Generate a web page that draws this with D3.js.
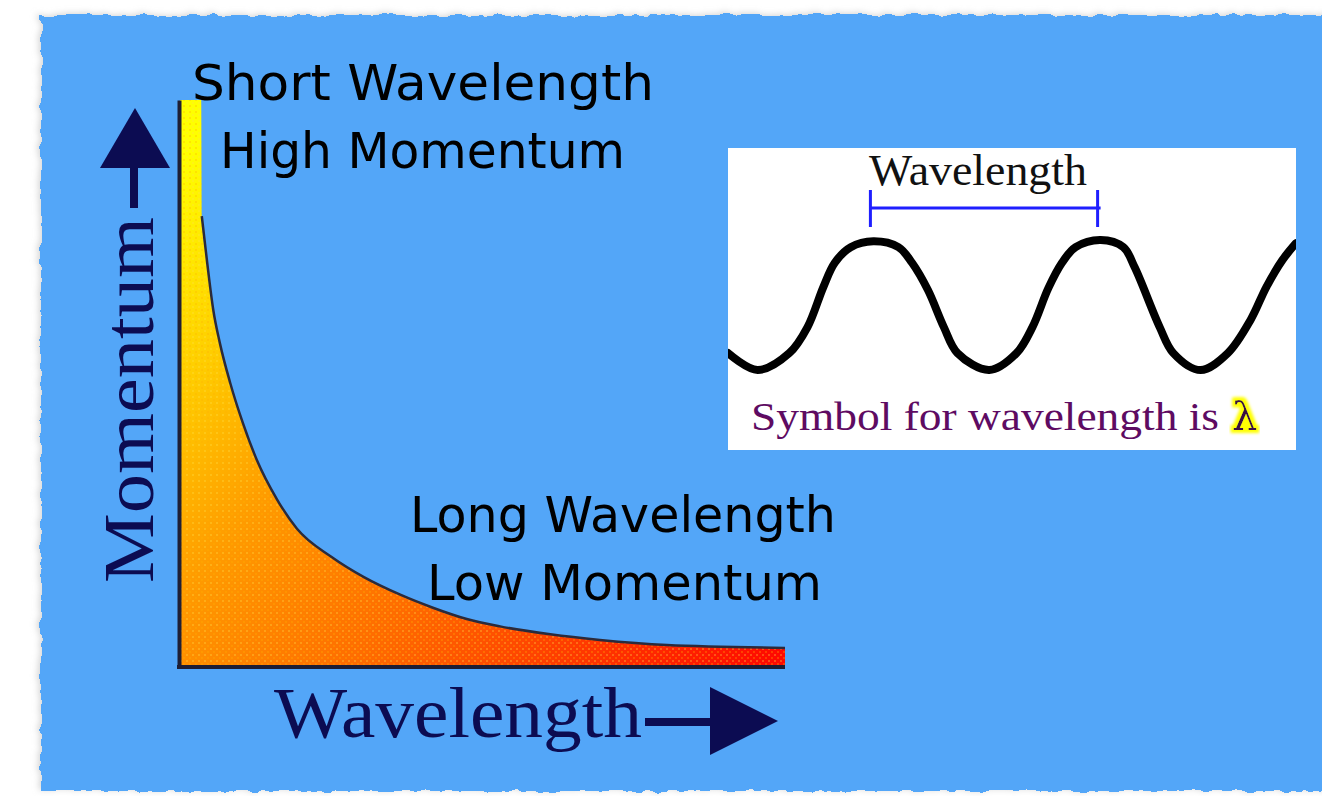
<!DOCTYPE html>
<html>
<head>
<meta charset="utf-8">
<script src="https://cdn.jsdelivr.net/npm/d3@7/dist/d3.min.js"></script>
<style>
body{margin:0;background:#fff;overflow:hidden;}
svg{display:block;}
</style>
</head>
<body>
<div class="canvas"></div>
<script>
/* Wavelength vs momentum sketch with inset wave */

var W = 1322, H = 796;

// main curve (both axes 0-100)
var wavelength = [0, 3.5, 3.6, 4.5, 5.5, 6.6, 8.3, 10.4, 12.7, 16.0, 19.3, 25.0, 30.4, 36.4, 41.8, 47.4, 52.9, 61.2, 69.4, 80.5, 100];
var momentum   = [100, 100, 79.5, 71.2, 62.9, 57.0, 50.0, 42.9, 36.4, 29.5, 24.3, 19.3, 15.7, 12.6, 10.3, 8.3, 7.0, 5.6, 4.6, 3.7, 3.2];

// inset wave: phase in wavelengths (0 = first crest), displacement -1..1
var wavePhase = [-0.64, -0.51, -0.37, -0.29, -0.22, -0.17, -0.10, 0, 0.11, 0.17, 0.24, 0.31, 0.37, 0.51,
                 0.63, 0.70, 0.77, 0.83, 0.89, 1.0, 1.10, 1.15, 1.26, 1.32, 1.44, 1.56, 1.66, 1.73, 1.80, 1.86];
var waveDisp  = [-0.74, -1, -0.74, -0.34, 0.28, 0.65, 0.89, 0.98, 0.89, 0.65, 0.23, -0.34, -0.74, -1,
                 -0.74, -0.34, 0.26, 0.65, 0.89, 1.0, 0.89, 0.58, -0.34, -0.74, -1, -0.74, -0.23, 0.28, 0.69, 0.95];

// text
var notesTop = ['Short Wavelength', 'High Momentum'];
var notesBottom = ['Long Wavelength', 'Low Momentum'];
var xTitle = 'Wavelength', yTitle = 'Momentum';
var insetTitle = 'Wavelength', insetNote = 'Symbol for wavelength is', insetSymbol = '\u03bb';

var svg = d3.select('.canvas')
    .append('svg')
    .attr('width', W)
    .attr('height', H);

var defs = svg.append('defs');

// rough paper edge for the blue panel
var rough = defs.append('filter').attr('id', 'rough')
    .attr('x', '-5%').attr('y', '-5%').attr('width', '110%').attr('height', '110%');
rough.append('feTurbulence').attr('type', 'fractalNoise').attr('baseFrequency', 0.09)
    .attr('numOctaves', 2).attr('seed', 3).attr('result', 'noise');
rough.append('feDisplacementMap').attr('in', 'SourceGraphic').attr('in2', 'noise')
    .attr('scale', 7).attr('xChannelSelector', 'R').attr('yChannelSelector', 'G').attr('result', 'torn');
rough.append('feGaussianBlur').attr('in', 'torn').attr('stdDeviation', 3).attr('result', 'blur');
rough.append('feOffset').attr('in', 'blur').attr('dx', -2).attr('dy', -1).attr('result', 'off');
rough.append('feColorMatrix').attr('in', 'off').attr('type', 'matrix')
    .attr('values', '0 0 0 0 0.55  0 0 0 0 0.55  0 0 0 0 0.55  0 0 0 0.7 0').attr('result', 'shadow');
var merge = rough.append('feMerge');
merge.append('feMergeNode').attr('in', 'shadow');
merge.append('feMergeNode').attr('in', 'torn');

// fill gradient, yellow at the spike to red at the tail
var grad = defs.append('linearGradient').attr('id', 'heat')
    .attr('gradientUnits', 'userSpaceOnUse')
    .attr('x1', 190).attr('y1', 150).attr('x2', 780).attr('y2', 650);
[[0, '#ffff00'], [0.18, '#ffd000'], [0.36, '#ff9c00'], [0.6, '#ff6a00'], [0.8, '#ff3a00'], [1, '#ff0a00']]
    .forEach(function(s){
        grad.append('stop').attr('offset', s[0]).attr('stop-color', s[1]);
    });

// dither dots
var dots = defs.append('pattern').attr('id', 'dither')
    .attr('patternUnits', 'userSpaceOnUse').attr('width', 6).attr('height', 6);
dots.append('rect').attr('x', 0).attr('y', 0).attr('width', 2).attr('height', 2).attr('fill', '#ffe24a');
dots.append('rect').attr('x', 3).attr('y', 3).attr('width', 2).attr('height', 2).attr('fill', '#ffb000');

// yellow halo for lambda
var glow = defs.append('filter').attr('id', 'glow');
glow.append('feMorphology').attr('in', 'SourceAlpha').attr('operator', 'dilate').attr('radius', 3).attr('result', 'fat');
glow.append('feGaussianBlur').attr('in', 'fat').attr('stdDeviation', 1.5).attr('result', 'soft');
glow.append('feFlood').attr('flood-color', '#ffff00');
glow.append('feComposite').attr('in2', 'soft').attr('operator', 'in').attr('result', 'halo');
var gm = glow.append('feMerge');
gm.append('feMergeNode').attr('in', 'halo');
gm.append('feMergeNode').attr('in', 'SourceGraphic');

// blue panel
svg.append('rect')
    .attr('x', 41).attr('y', 15)
    .attr('width', W + 40).attr('height', 776)
    .attr('fill', '#52a6f8')
    .attr('filter', 'url(#rough)');

/* main chart */
var x = d3.scaleLinear().domain([0, 100]).range([180, 785]);
var y = d3.scaleLinear().domain([0, 100]).range([666, 100]);

var pts = wavelength.map(function(d, i){ return {w: d, p: momentum[i]}; });

var area = d3.area()
    .x(function(d){ return x(d.w); })
    .y0(y(0))
    .y1(function(d){ return y(d.p); })
    .curve(d3.curveMonotoneX);
var edge = d3.line()
    .x(function(d){ return x(d.w); })
    .y(function(d){ return y(d.p); })
    .curve(d3.curveMonotoneX);

var plot = svg.append('g').attr('class', 'plot');

plot.append('path').datum(pts)
    .attr('d', area)
    .attr('fill', 'url(#heat)');
plot.append('path').datum(pts)
    .attr('d', area)
    .attr('fill', 'url(#dither)')
    .attr('opacity', 0.3);
plot.append('path').datum(pts.slice(2))
    .attr('d', edge)
    .attr('fill', 'none')
    .attr('stroke', '#2b2b3c')
    .attr('stroke-width', 2.5);

var yAxis = d3.axisLeft(y).tickValues([]).tickSizeOuter(0);
var xAxis = d3.axisBottom(x).tickValues([]).tickSizeOuter(0);
plot.append('g').attr('transform', 'translate(' + (x(0) - 1) + ',0)').call(yAxis)
    .select('.domain').attr('stroke', '#1e1e34').attr('stroke-width', 4);
plot.append('g').attr('transform', 'translate(0,' + (y(0) + 1) + ')').call(xAxis)
    .select('.domain').attr('stroke', '#1e1e34').attr('stroke-width', 4)
    .attr('d', 'M' + (x(0) - 3) + ',0H' + x(100));

// pixel-font notes
var note = svg.append('g')
    .attr('font-family', '"DejaVu Sans", sans-serif')
    .attr('font-size', 50)
    .attr('fill', '#000');
note.append('text').attr('x', 192).attr('y', 100).attr('textLength', 462)
    .attr('lengthAdjust', 'spacingAndGlyphs').text(notesTop[0]);
note.append('text').attr('x', 220).attr('y', 168).attr('textLength', 405)
    .attr('lengthAdjust', 'spacingAndGlyphs').text(notesTop[1]);
note.append('text').attr('x', 410).attr('y', 532).attr('textLength', 426)
    .attr('lengthAdjust', 'spacingAndGlyphs').text(notesBottom[0]);
note.append('text').attr('x', 427).attr('y', 600).attr('textLength', 395)
    .attr('lengthAdjust', 'spacingAndGlyphs').text(notesBottom[1]);

// axis titles with arrows
var navy = '#0c0c52';
svg.append('text')
    .attr('x', 274).attr('y', 737)
    .attr('font-family', '"Liberation Serif", serif')
    .attr('font-size', 72)
    .attr('fill', navy)
    .attr('textLength', 368).attr('lengthAdjust', 'spacingAndGlyphs')
    .text(xTitle);
svg.append('line')
    .attr('x1', 645).attr('x2', 714).attr('y1', 722).attr('y2', 722)
    .attr('stroke', navy).attr('stroke-width', 8);
svg.append('path')
    .attr('d', 'M710,687L778,721L710,755Z')
    .attr('fill', navy);

svg.append('text')
    .attr('transform', 'translate(153,583) rotate(-90)')
    .attr('font-family', '"Liberation Serif", serif')
    .attr('font-size', 72)
    .attr('fill', navy)
    .attr('textLength', 366).attr('lengthAdjust', 'spacingAndGlyphs')
    .text(yTitle);
svg.append('line')
    .attr('x1', 134).attr('x2', 134).attr('y1', 208).attr('y2', 164)
    .attr('stroke', navy).attr('stroke-width', 8);
svg.append('path')
    .attr('d', 'M100,168L135,108L170,168Z')
    .attr('fill', navy);

/* inset */
var box = {x: 728, y: 148, w: 568, h: 302};
var inset = svg.append('g').attr('class', 'inset');
defs.append('clipPath').attr('id', 'boxclip')
    .append('rect').attr('x', box.x).attr('y', box.y).attr('width', box.w).attr('height', box.h);

inset.append('rect')
    .attr('x', box.x).attr('y', box.y).attr('width', box.w).attr('height', box.h)
    .attr('fill', '#fff');

var xw = d3.scaleLinear().domain([-0.64, 1.86]).range([box.x, box.x + box.w]);
var yw = d3.scaleLinear().domain([-1, 1]).range([370, 240]);

var wave = d3.line()
    .x(function(d, i){ return xw(d); })
    .y(function(d, i){ return yw(waveDisp[i]); })
    .curve(d3.curveCatmullRom);

inset.append('path').datum(wavePhase)
    .attr('d', wave)
    .attr('clip-path', 'url(#boxclip)')
    .attr('fill', 'none')
    .attr('stroke', '#000')
    .attr('stroke-width', 8)
    .attr('stroke-linecap', 'round');

// one wavelength bracket, crest to crest
var blue = '#1f1fff';
inset.append('line')
    .attr('x1', xw(0) - 3).attr('x2', xw(1)).attr('y1', 208).attr('y2', 208)
    .attr('stroke', blue).attr('stroke-width', 3);
inset.selectAll('.tick-end')
    .data([0, 1])
    .enter()
    .append('line')
    .attr('class', 'tick-end')
    .attr('x1', function(d){ return xw(d) - 3; })
    .attr('x2', function(d){ return xw(d) - 3; })
    .attr('y1', 190).attr('y2', 227)
    .attr('stroke', blue).attr('stroke-width', 3);

inset.append('text')
    .attr('x', 869).attr('y', 185)
    .attr('font-family', '"Liberation Serif", serif')
    .attr('font-size', 44)
    .attr('fill', '#111')
    .attr('textLength', 218).attr('lengthAdjust', 'spacingAndGlyphs')
    .text(insetTitle);

inset.append('text')
    .attr('x', 751).attr('y', 430)
    .attr('font-family', '"Liberation Serif", serif')
    .attr('font-size', 40)
    .attr('fill', '#5e0b62')
    .attr('textLength', 468).attr('lengthAdjust', 'spacingAndGlyphs')
    .text(insetNote);

inset.append('text')
    .attr('x', 1232).attr('y', 430)
    .attr('font-family', '"DejaVu Serif", serif')
    .attr('font-size', 40)
    .attr('fill', '#3a0a40')
    .attr('filter', 'url(#glow)')
    .text(insetSymbol);
</script>
</body>
</html>
